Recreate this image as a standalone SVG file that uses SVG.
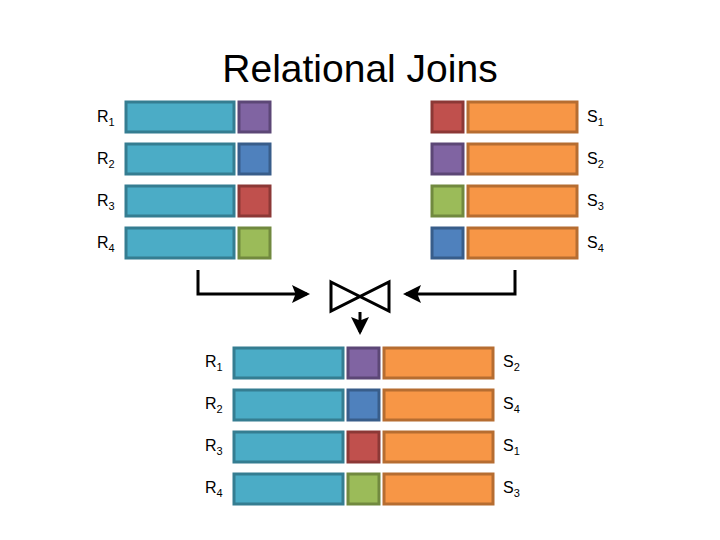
<svg xmlns="http://www.w3.org/2000/svg" width="720" height="540" viewBox="0 0 720 540">
<style>
.t{font-family:"Liberation Sans",Arial,sans-serif;fill:#000}
.lbl{font-family:"Liberation Sans",Arial,sans-serif;font-size:16px;fill:#000}
.sub{font-size:11px}
.cy{fill:#4BACC6;stroke:#357D91;stroke-width:3}
.or{fill:#F79646;stroke:#B66D31;stroke-width:3}
.pu{fill:#8064A2;stroke:#5C4776;stroke-width:3}
.bl{fill:#4F81BD;stroke:#385D8A;stroke-width:3}
.rd{fill:#C0504D;stroke:#8C3836;stroke-width:3}
.gr{fill:#9BBB59;stroke:#71893F;stroke-width:3}
.ln{fill:none;stroke:#000;stroke-width:3}
</style>
<defs>
<marker id="ah" markerWidth="6" markerHeight="6" refX="5" refY="3" orient="auto" markerUnits="strokeWidth">
<path d="M0,0 L6,3 L0,6 L1.2,3 Z" fill="#000"/>
</marker>
</defs>
<rect width="720" height="540" fill="#fff"/>
<text class="t" x="360" y="82" font-size="39" text-anchor="middle">Relational Joins</text>

<g id="R1"><text class="lbl" x="97" y="122">R<tspan class="sub" dy="4">1</tspan></text><rect class="cy" x="126" y="102" width="108" height="30"/><rect class="pu" x="239" y="102" width="31" height="30"/></g>
<g id="R2"><text class="lbl" x="97" y="164">R<tspan class="sub" dy="4">2</tspan></text><rect class="cy" x="126" y="144" width="108" height="30"/><rect class="bl" x="239" y="144" width="31" height="30"/></g>
<g id="R3"><text class="lbl" x="97" y="206">R<tspan class="sub" dy="4">3</tspan></text><rect class="cy" x="126" y="186" width="108" height="30"/><rect class="rd" x="239" y="186" width="31" height="30"/></g>
<g id="R4"><text class="lbl" x="97" y="248">R<tspan class="sub" dy="4">4</tspan></text><rect class="cy" x="126" y="228" width="108" height="30"/><rect class="gr" x="239" y="228" width="31" height="30"/></g>

<g id="S1"><rect class="rd" x="432" y="102" width="31" height="30"/><rect class="or" x="468" y="102" width="109" height="30"/><text class="lbl" x="587" y="122">S<tspan class="sub" dy="4">1</tspan></text></g>
<g id="S2"><rect class="pu" x="432" y="144" width="31" height="30"/><rect class="or" x="468" y="144" width="109" height="30"/><text class="lbl" x="587" y="164">S<tspan class="sub" dy="4">2</tspan></text></g>
<g id="S3"><rect class="gr" x="432" y="186" width="31" height="30"/><rect class="or" x="468" y="186" width="109" height="30"/><text class="lbl" x="587" y="206">S<tspan class="sub" dy="4">3</tspan></text></g>
<g id="S4"><rect class="bl" x="432" y="228" width="31" height="30"/><rect class="or" x="468" y="228" width="109" height="30"/><text class="lbl" x="587" y="248">S<tspan class="sub" dy="4">4</tspan></text></g>

<g id="join"><path class="ln" d="M331,282 L389,311 L389,282 L331,311 Z" stroke-linejoin="miter" stroke-width="2.5"/></g>

<g id="connectors">
<path class="ln" d="M198,270 L198,294 L307,294" marker-end="url(#ah)"/>
<path class="ln" d="M515,270 L515,294 L406,294" marker-end="url(#ah)"/>
<path class="ln" d="M360,312 L360,332" marker-end="url(#ah)"/>
</g>

<g id="J1"><text class="lbl" x="205" y="367">R<tspan class="sub" dy="4">1</tspan></text><rect class="cy" x="234" y="348" width="109" height="30"/><rect class="pu" x="348" y="348" width="31" height="30"/><rect class="or" x="384" y="348" width="109" height="30"/><text class="lbl" x="503" y="367">S<tspan class="sub" dy="4">2</tspan></text></g>
<g id="J2"><text class="lbl" x="205" y="409">R<tspan class="sub" dy="4">2</tspan></text><rect class="cy" x="234" y="390" width="109" height="30"/><rect class="bl" x="348" y="390" width="31" height="30"/><rect class="or" x="384" y="390" width="109" height="30"/><text class="lbl" x="503" y="409">S<tspan class="sub" dy="4">4</tspan></text></g>
<g id="J3"><text class="lbl" x="205" y="451">R<tspan class="sub" dy="4">3</tspan></text><rect class="cy" x="234" y="432" width="109" height="30"/><rect class="rd" x="348" y="432" width="31" height="30"/><rect class="or" x="384" y="432" width="109" height="30"/><text class="lbl" x="503" y="451">S<tspan class="sub" dy="4">1</tspan></text></g>
<g id="J4"><text class="lbl" x="205" y="493">R<tspan class="sub" dy="4">4</tspan></text><rect class="cy" x="234" y="474" width="109" height="30"/><rect class="gr" x="348" y="474" width="31" height="30"/><rect class="or" x="384" y="474" width="109" height="30"/><text class="lbl" x="503" y="493">S<tspan class="sub" dy="4">3</tspan></text></g>
</svg>
